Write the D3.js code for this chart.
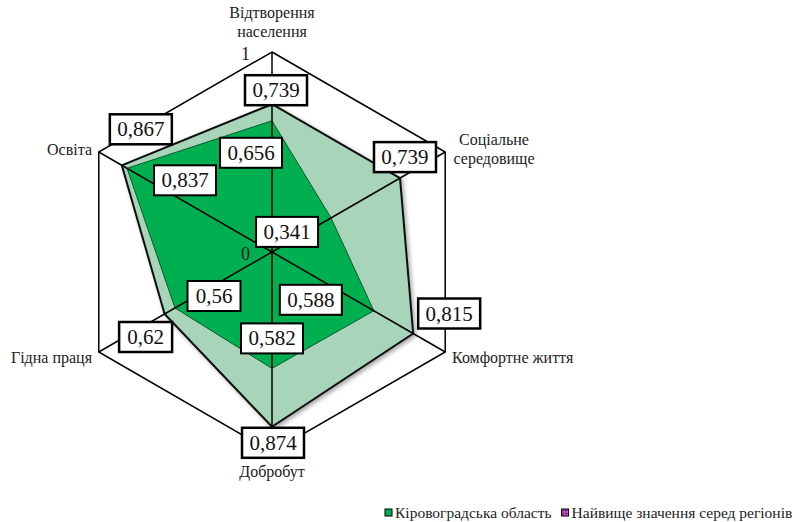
<!DOCTYPE html>
<html>
<head>
<meta charset="utf-8">
<script src="https://cdn.jsdelivr.net/npm/d3@7"></script>
<style>
  body { margin: 0; background: #fff; }
</style>
</head>
<body>
<div id="chart"></div>
<script>
// Data
const axes = [
  ["Відтворення", "населення"],
  ["Соціальне", "середовище"],
  ["Комфортне життя"],
  ["Добробут"],
  ["Гідна праця"],
  ["Освіта"]
];
const kirovohrad = [0.656, 0.341, 0.588, 0.582, 0.56, 0.837];
const highest = [0.739, 0.739, 0.815, 0.874, 0.62, 0.867];
const seriesNames = ["Кіровоградська область", "Найвище значення серед регіонів"];
const radialTicks = [0, 1];

// label offsets (px) from the data point, hand placed like in the source
const highestOffsets = [[4, -14], [5, -21], [36, -20], [1, 16], [-19, 23], [19, -36]];
const kirOffsets = [[-21, 32], [-44, 14], [-63, -11], [0, -30], [39, -12], [58, 12]];

const fmt = (v) => String(v).replace(".", ",");
const serif = "'Liberation Serif', 'DejaVu Serif', 'Times New Roman', serif";

// Dimensions
const width = 807, height = 522;
const cx = 272, cy = 252, R = 200;

const svg = d3.select("#chart").append("svg")
  .attr("width", width)
  .attr("height", height)
  .attr("font-family", serif)
  .style("font-family", serif);

const defs = svg.append("defs");
defs.append("filter")
  .attr("id", "shadow")
  .attr("x", "-10%").attr("y", "-10%").attr("width", "130%").attr("height", "130%")
  .append("feDropShadow")
  .attr("dx", 2).attr("dy", 2).attr("stdDeviation", 2)
  .attr("flood-color", "#000").attr("flood-opacity", 0.35);

const pat = defs.append("pattern")
  .attr("id", "grid")
  .attr("width", 3).attr("height", 3)
  .attr("patternUnits", "userSpaceOnUse");
pat.append("rect").attr("width", 3).attr("height", 3).attr("fill", "#d45fd4");
pat.append("path").attr("d", "M0,1.5H3M1.5,0V3").attr("stroke", "#7a1f7a").attr("stroke-width", 0.8);

const ctr = svg.append("g").attr("transform", `translate(${cx},${cy})`);

// Scales
const angle = d3.scalePoint()
  .domain(d3.range(axes.length))
  .range([0, 2 * Math.PI * (axes.length - 1) / axes.length]);
const rScale = d3.scaleLinear().domain([0, 1]).range([0, R]);

const pt = (i, v) => [
  rScale(v) * Math.sin(angle(i)),
  -rScale(v) * Math.cos(angle(i))
];

const radial = d3.lineRadial()
  .angle((d, i) => angle(i))
  .radius((d) => rScale(d))
  .curve(d3.curveLinearClosed);

// outer hexagon
ctr.append("path")
  .attr("d", radial(axes.map(() => 1)))
  .attr("fill", "none")
  .attr("stroke", "#000")
  .attr("stroke-width", 1.5);

// series
ctr.append("path")
  .attr("d", radial(highest))
  .attr("fill", "#a8d5b9")
  .attr("stroke", "#111")
  .attr("stroke-width", 2)
  .attr("filter", "url(#shadow)");

ctr.append("path")
  .attr("d", radial(kirovohrad))
  .attr("fill", "#00b050")
  .attr("stroke", "#0b5a2c")
  .attr("stroke-width", 1);

// spokes
ctr.selectAll(".spoke")
  .data(axes)
  .join("line")
  .attr("x1", 0).attr("y1", 0)
  .attr("x2", (d, i) => pt(i, 1)[0])
  .attr("y2", (d, i) => pt(i, 1)[1])
  .attr("stroke", "#000")
  .attr("stroke-width", 1.5);

// radial tick labels
ctr.selectAll(".rtick")
  .data(radialTicks)
  .join("text")
  .attr("x", -22)
  .attr("y", (d) => -rScale(d) + 8)
  .attr("text-anchor", "end")
  .attr("font-size", 18)
  .attr("fill", "#222")
  .text((d) => d);

// axis labels
const labelPos = [
  { x: 0, y: -234, anchor: "middle" },
  { x: 222, y: -107, anchor: "middle" },
  { x: 180, y: 111, anchor: "start" },
  { x: 0, y: 225, anchor: "middle" },
  { x: -180, y: 111, anchor: "end" },
  { x: -180, y: -97, anchor: "end" }
];
axes.forEach((lines, i) => {
  const p = labelPos[i];
  const t = ctr.append("text")
    .attr("x", p.x)
    .attr("y", p.y)
    .attr("text-anchor", p.anchor)
    .attr("font-size", 16)
    .attr("fill", "#222");
  lines.forEach((l, j) => {
    t.append("tspan").attr("x", p.x).attr("dy", j === 0 ? 0 : 19).text(l);
  });
});

// data labels
function dataLabels(values, offsets, sw) {
  values.forEach((v, i) => {
    const [x, y] = pt(i, v);
    const lx = x + offsets[i][0], ly = y + offsets[i][1];
    const bw = String(v).length > 4 ? 62 : 53;
    const g = ctr.append("g").attr("transform", `translate(${lx},${ly})`);
    g.append("rect")
      .attr("x", -bw / 2).attr("y", -15)
      .attr("width", bw).attr("height", 30)
      .attr("fill", "#fff")
      .attr("stroke", "#000")
      .attr("stroke-width", sw);
    g.append("text")
      .attr("text-anchor", "middle")
      .attr("y", 7)
      .attr("font-size", 21)
      .attr("fill", "#111")
      .text(fmt(v));
  });
}
dataLabels(highest, highestOffsets, 2.5);
dataLabels(kirovohrad, kirOffsets, 2);

// legend
const legend = svg.append("g").attr("transform", "translate(385,509)");
const fills = ["#00b050", "url(#grid)"];
let lx = 0;
seriesNames.forEach((name, i) => {
  const g = legend.append("g").attr("transform", `translate(${lx},0)`);
  g.append("rect")
    .attr("width", 7).attr("height", 7)
    .attr("fill", fills[i])
    .attr("stroke", "#000")
    .attr("stroke-width", 1);
  const t = g.append("text")
    .attr("x", 10).attr("y", 9)
    .attr("font-size", 15.5)
    .attr("fill", "#222")
    .text(name);
  lx += 10 + t.node().getComputedTextLength() + 10;
});
</script>
</body>
</html>
